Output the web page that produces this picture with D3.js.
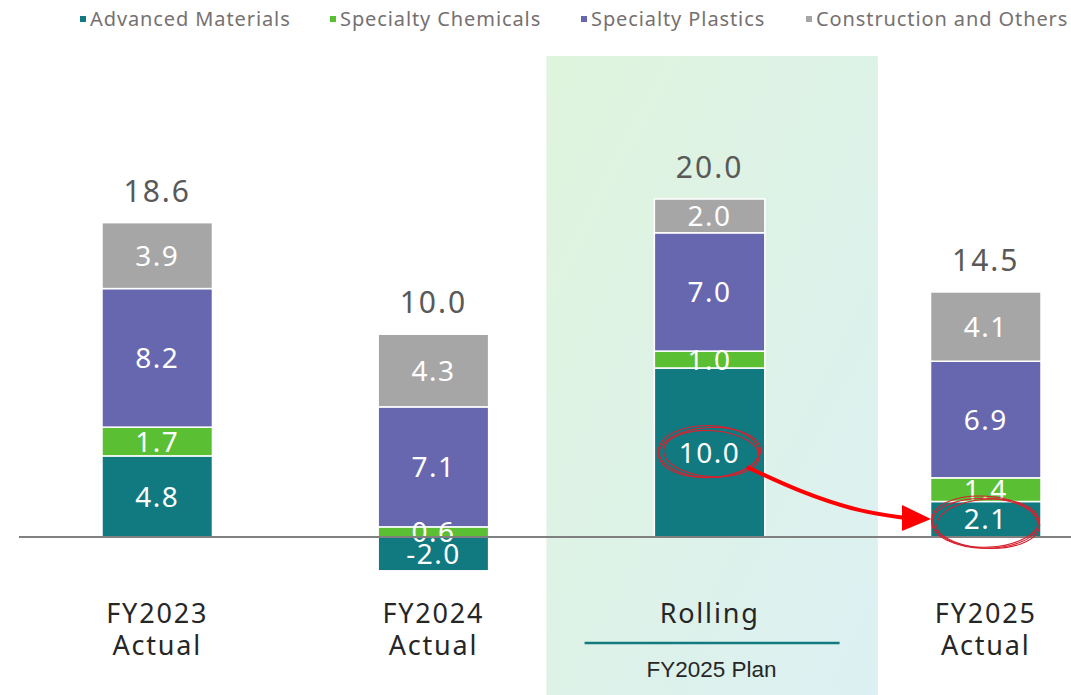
<!DOCTYPE html>
<html>
<head>
<meta charset="utf-8">
<script src="https://cdn.jsdelivr.net/npm/d3@7"></script>
<style>
  html, body { margin: 0; padding: 0; background: #fff; }
  svg { display: block; font-family: "Noto Sans", sans-serif; }
</style>
</head>
<body>
<svg id="chart" width="1071" height="695"></svg>
<script>
// Operating income by segment (billion yen)
const categories = ["FY2023 Actual", "FY2024 Actual", "Rolling", "FY2025 Actual"];
const categoryLines = [["FY2023", "Actual"], ["FY2024", "Actual"], ["Rolling"], ["FY2025", "Actual"]];
const seriesNames = ["Advanced Materials", "Specialty Chemicals", "Specialty Plastics", "Construction and Others"];
const advancedMaterials = [4.8, -2.0, 10.0, 2.1];
const specialtyChemicals = [1.7, 0.6, 1.0, 1.4];
const specialtyPlastics = [8.2, 7.1, 7.0, 6.9];
const constructionOthers = [3.9, 4.3, 2.0, 4.1];
const totals = [18.6, 10.0, 20.0, 14.5];
const colors = ["#117a80", "#5bbf34", "#6767b0", "#a6a6a6"];

const rows = categories.map((c, i) => ({
  category: c,
  "Advanced Materials": advancedMaterials[i],
  "Specialty Chemicals": specialtyChemicals[i],
  "Specialty Plastics": specialtyPlastics[i],
  "Construction and Others": constructionOthers[i],
  total: totals[i]
}));

const svg = d3.select("#chart");

const x = d3.scaleBand().domain(categories).range([102, 1041]).paddingInner(0.6).paddingOuter(0);
const y = d3.scaleLinear().domain([-5, 25]).range([537 + 5 * 16.9, 537 - 25 * 16.9]);

// Highlighted plan column background
const defs = svg.append("defs");
const grad = defs.append("linearGradient").attr("id", "planBg")
  .attr("x1", "0%").attr("y1", "0%").attr("x2", "100%").attr("y2", "100%");
grad.append("stop").attr("offset", "0%").attr("stop-color", "#dff4dc");
grad.append("stop").attr("offset", "100%").attr("stop-color", "#dcf0f3");

const xr = x("Rolling");
svg.append("rect")
  .attr("x", xr - 108).attr("y", 56)
  .attr("width", x.bandwidth() + 221).attr("height", 695 - 56)
  .attr("fill", "url(#planBg)");

// Stacked bars
const stack = d3.stack().keys(seriesNames).offset(d3.stackOffsetDiverging);
const layers = stack(rows);

const g = svg.append("g");
layers.forEach((layer, li) => {
  const lg = g.append("g");
  lg.selectAll("rect").data(layer).join("rect")
    .attr("x", d => x(d.data.category))
    .attr("y", d => y(Math.max(d[0], d[1])))
    .attr("width", x.bandwidth())
    .attr("height", d => Math.abs(y(d[0]) - y(d[1])))
    .attr("fill", colors[li])
    .attr("stroke", "#fff")
    .attr("stroke-width", 1.5);
});

// Axis baseline
svg.append("line")
  .attr("x1", 19).attr("x2", 1071)
  .attr("y1", y(0)).attr("y2", y(0))
  .attr("stroke", "#808080").attr("stroke-width", 2);

// Segment value labels
layers.forEach((layer, li) => {
  g.append("g").selectAll("text").data(layer).join("text")
    .attr("x", d => x(d.data.category) + x.bandwidth() / 2)
    .attr("y", d => y((d[0] + d[1]) / 2))
    .attr("dy", "0.36em")
    .attr("text-anchor", "middle")
    .attr("fill", "#fff")
    .attr("font-size", 28)
    .attr("letter-spacing", 1.5)
    .text(d => (d.data[layer.key]).toFixed(1));
});

// Totals above each bar
const topOf = rows.map((r, i) => d3.max(layers, l => l[i][1]));
svg.append("g").selectAll("text").data(rows).join("text")
  .attr("x", d => x(d.category) + x.bandwidth() / 2)
  .attr("y", (d, i) => y(topOf[i]) - 21)
  .attr("text-anchor", "middle")
  .attr("fill", "#595959")
  .attr("font-size", 30)
  .attr("letter-spacing", 2)
  .text(d => d.total.toFixed(1));

// Category labels
categories.forEach((c, i) => {
  const cx = x(c) + x.bandwidth() / 2;
  categoryLines[i].forEach((line, k) => {
    svg.append("text")
      .attr("x", cx).attr("y", 623 + k * 32)
      .attr("text-anchor", "middle")
      .attr("fill", "#262626")
      .attr("font-size", 27)
      .attr("letter-spacing", 1.8)
      .text(line);
  });
});
const rc = xr + x.bandwidth() / 2;
svg.append("line")
  .attr("x1", rc - 125).attr("x2", rc + 130)
  .attr("y1", 643).attr("y2", 643)
  .attr("stroke", "#137a80").attr("stroke-width", 2.5);
svg.append("text")
  .attr("x", rc + 2).attr("y", 677)
  .attr("text-anchor", "middle")
  .attr("fill", "#262626")
  .attr("font-family", "'Liberation Sans', Arial, sans-serif")
  .attr("font-size", 22.5)
  .text("FY2025 Plan");

// Legend
const legendX = [80, 330, 581, 806];
const legend = svg.append("g");
seriesNames.forEach((name, i) => {
  legend.append("rect")
    .attr("x", legendX[i]).attr("y", 16)
    .attr("width", 6).attr("height", 6)
    .attr("fill", colors[i]);
  legend.append("text")
    .attr("x", legendX[i] + 10).attr("y", 26)
    .attr("fill", "#767171")
    .attr("font-size", 20)
    .attr("letter-spacing", 0.9)
    .text(name);
});

// Hand-drawn emphasis: circles around plan vs actual for Advanced Materials
const red = "#d8202e";
const planC = [rc, y(advancedMaterials[2] / 2) + 0];
const actC = [x("FY2025 Actual") + x.bandwidth() / 2, y(advancedMaterials[3] / 2) + 3];
const ann = svg.append("g").attr("fill", "none").attr("stroke", red).attr("stroke-width", 1.1);
[[0, 0, 51, 25, -3], [2, 1, 48, 23, 4], [-1, -1, 50, 26, 1]].forEach(([dx, dy, rx, ry, rot]) => {
  ann.append("ellipse").attr("cx", planC[0] + dx).attr("cy", planC[1] + dy)
    .attr("rx", rx).attr("ry", ry)
    .attr("transform", `rotate(${rot},${planC[0]},${planC[1]})`);
});
[[0, 0, 54, 26, 4], [2, 1, 51, 24, -3], [-1, 1, 53, 25, 1]].forEach(([dx, dy, rx, ry, rot]) => {
  ann.append("ellipse").attr("cx", actC[0] + dx).attr("cy", actC[1] + dy)
    .attr("rx", rx).attr("ry", ry)
    .attr("transform", `rotate(${rot},${actC[0]},${actC[1]})`);
});

// Arrow from plan to actual
svg.append("path")
  .attr("d", d3.line().curve(d3.curveBasis)([[747, 467], [800, 492], [860, 512], [906, 518]]))
  .attr("fill", "none").attr("stroke", "#ff0000").attr("stroke-width", 4);
svg.append("path")
  .attr("d", d3.line()([[902, 505], [931, 519], [902, 531]]) + "Z")
  .attr("fill", "#ff0000");
</script>
</body>
</html>
